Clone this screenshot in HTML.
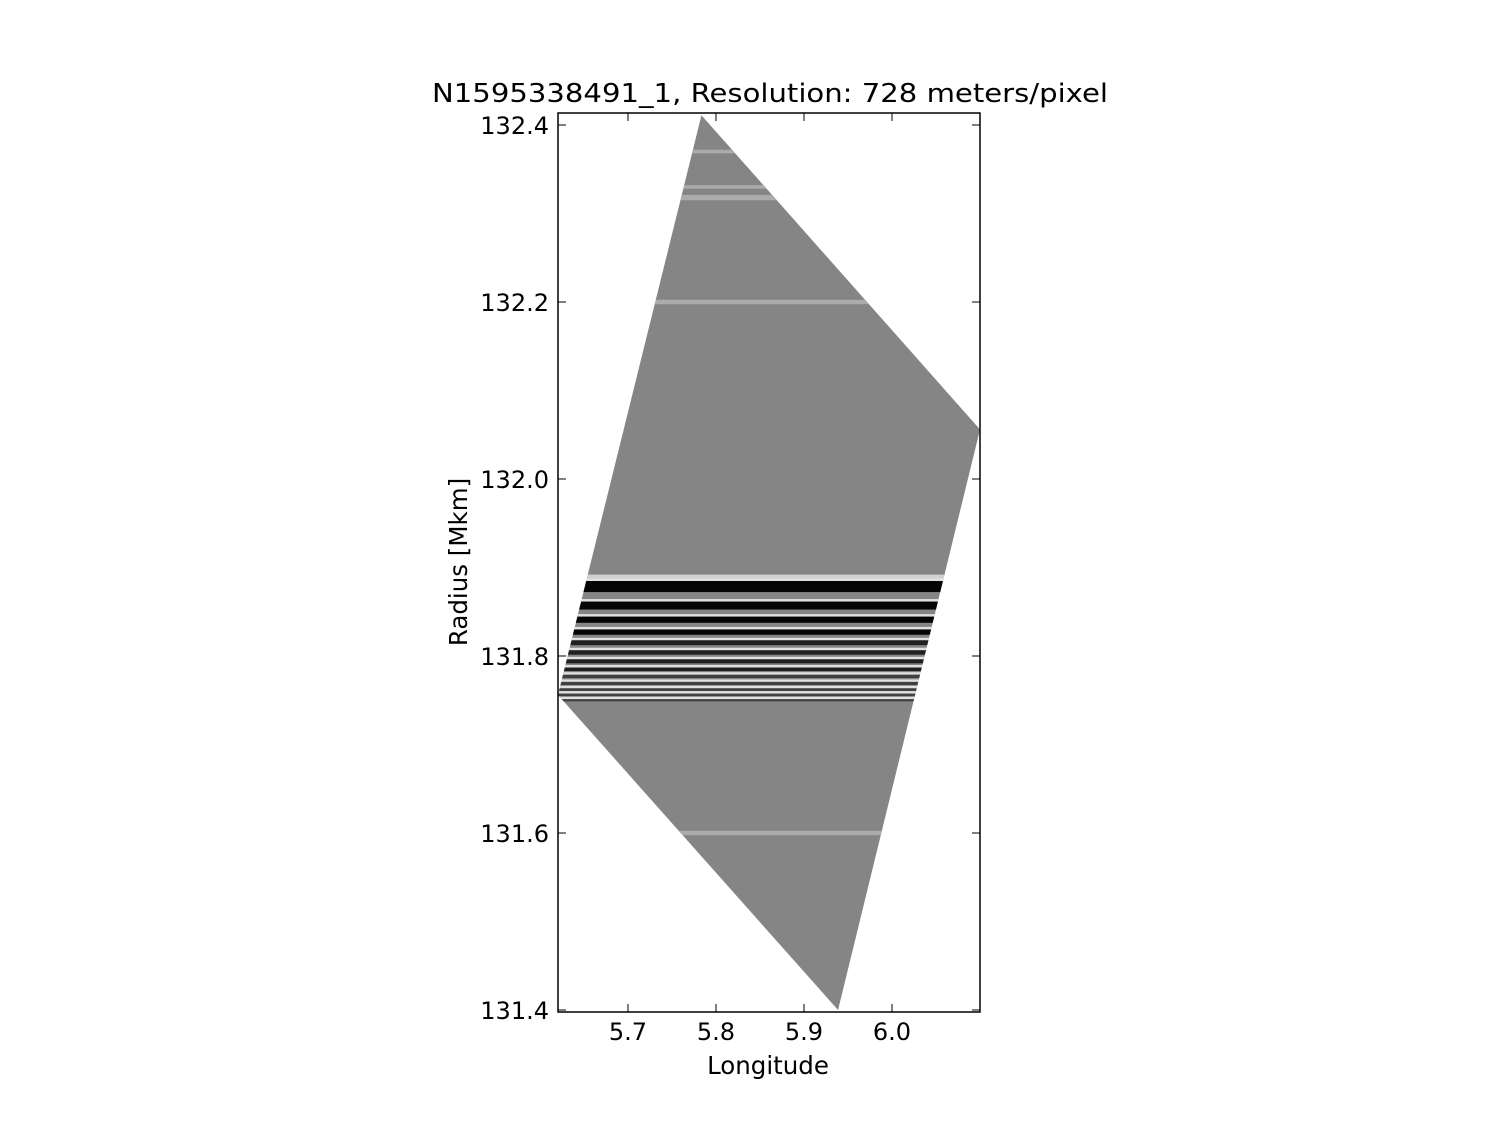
<!DOCTYPE html>
<html><head><meta charset="utf-8"><style>
body{margin:0;background:#fff}
svg text{font-family:"DejaVu Sans","Liberation Sans",sans-serif;fill:#000}
</style></head><body>
<svg id="chart" width="1500" height="1125">
<text x="770" y="102" font-size="25.5" text-anchor="middle" textLength="676" lengthAdjust="spacingAndGlyphs">N1595338491_1, Resolution: 728 meters/pixel</text>
<defs><clipPath id="clip"><polygon id="clipPoly"/></clipPath></defs>
<g id="img" clip-path="url(#clip)"></g>
<rect x="558" y="113" width="422" height="899" fill="none" stroke="#000" stroke-width="1.5"/>
<g id="ticks"></g>
<text x="768" y="1074" font-size="24.5" text-anchor="middle">Longitude</text>
<text transform="translate(467,562) rotate(-90)" font-size="24.5" text-anchor="middle">Radius [Mkm]</text>
</svg>
<script>
const xTicks=[5.7,5.8,5.9,6.0];
const yTicks=[131.4,131.6,131.8,132.0,132.2,132.4];
const polyLon=[5.7835,6.1,5.9387,5.6205];
const polyRad=[132.411,132.056,131.400,131.756];
// dark stripe radii (Mkm) and widths (Mkm)
const stripeRad=[131.8785,131.857,131.841,131.827,131.815,131.804,131.794,131.785,131.777,131.769,131.762,131.756,131.750];
const stripeW=[0.0125,0.009,0.007,0.006,0.0055,0.005,0.0045,0.004,0.0038,0.0035,0.003,0.003,0.0025];
// bright bands
const brightRad=[132.33,132.318,132.2,131.888,131.6,132.37];
const brightW=[0.004,0.006,0.005,0.008,0.005,0.004];
const X=v=>558+(v-5.6205)/(6.1-5.6205)*422;
const Y=v=>125+(132.4-v)/0.2*177;
const NS="http://www.w3.org/2000/svg";
function mk(t,a){const e=document.createElementNS(NS,t);for(const k in a)e.setAttribute(k,a[k]);return e;}
document.getElementById('clipPoly').setAttribute('points',polyLon.map((l,i)=>X(l)+','+Y(polyRad[i])).join(' '));
const g=document.getElementById('img');
const bg=mk('rect',{x:550,y:100,width:440,height:920,fill:'#858585'});


g.appendChild(bg);
brightRad.forEach((r,i)=>{const e=mk('rect',{x:550,y:Y(r)-brightW[i]/0.2*177/2,width:440,height:brightW[i]/0.2*177,fill:i===3?'#d0d0d0':'#ababab'});


g.appendChild(e);});
stripeRad.forEach((r,i)=>{
const h=stripeW[i]/0.2*177;
const w=mk('rect',{x:550,y:Y(r)-h/2-2.5,width:440,height:2.5,fill:'#e0e0e0'});


g.appendChild(w);
const e=mk('rect',{x:550,y:Y(r)-h/2,width:440,height:h,fill:i<4?'#050505':(i<8?'#202020':'#404040')});


g.appendChild(e);});
const t=document.getElementById('ticks');
xTicks.forEach(v=>{const x=X(v);
const a=mk('line',{x1:x,x2:x,y1:1012,y2:1004,stroke:'#000'});t.appendChild(a);
const b=mk('line',{x1:x,x2:x,y1:113,y2:121,stroke:'#000'});t.appendChild(b);
const l=mk('text',{x:x,y:1040,'font-size':24,'text-anchor':'middle'});l.textContent=v.toFixed(1);
t.appendChild(l);});
yTicks.forEach(v=>{const y=Y(v);
const a=mk('line',{x1:558,x2:566,y1:y,y2:y,stroke:'#000'});t.appendChild(a);
const b=mk('line',{x1:972,x2:980,y1:y,y2:y,stroke:'#000'});t.appendChild(b);
const l=mk('text',{x:549,y:y+9,'font-size':24,'text-anchor':'end'});l.textContent=v.toFixed(1);
t.appendChild(l);});
</script>
</body></html>
